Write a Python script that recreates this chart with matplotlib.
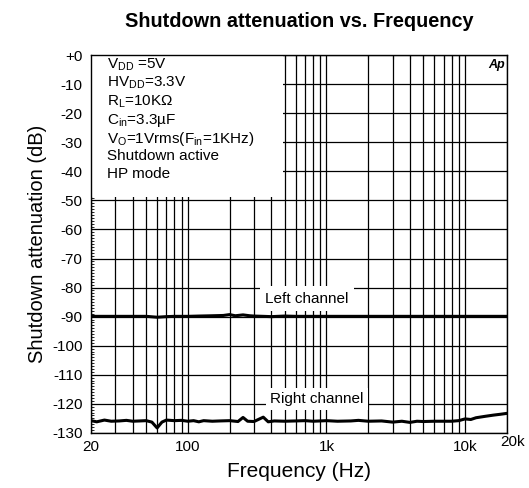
import numpy as np
import matplotlib
matplotlib.use("Agg")
import matplotlib.pyplot as plt
from matplotlib.ticker import FixedLocator, MultipleLocator, NullFormatter, LogLocator

plt.rcParams['font.family'] = ['Liberation Sans', 'DejaVu Sans']
plt.rcParams['mathtext.fontset'] = 'custom'
plt.rcParams['mathtext.rm'] = 'Liberation Sans'
plt.rcParams['mathtext.it'] = 'Liberation Sans:italic'

# measured attenuation, Hz vs dB
freq_left = [20, 30, 40, 50, 60, 70, 80, 100, 120, 150, 180, 200, 220, 250, 280, 300,
             350, 400, 500, 600, 800, 1000, 1500, 2000, 3000, 5000, 7000, 10000, 15000, 20000]
atten_left = [-89.9, -89.9, -89.9, -89.9, -90.2, -90.0, -89.9, -89.9, -89.8, -89.7, -89.6,
              -89.3, -89.7, -89.4, -89.7, -89.8, -89.9, -90.0, -89.8, -89.9, -89.9, -89.9,
              -89.9, -89.9, -89.9, -89.9, -89.9, -89.9, -89.9, -89.9]

freq_right = [20, 22, 25, 28, 32, 36, 40, 45, 50, 55, 60, 65, 70, 80, 90, 100, 110, 120,
              130, 150, 170, 200, 230, 250, 270, 300, 350, 380, 420, 500, 600, 700, 800,
              900, 1000, 1200, 1500, 1700, 2000, 2500, 3000, 3500, 4000, 4500, 5000, 6000,
              7000, 8000, 9000, 10000, 11000, 12000, 14000, 16000, 18000, 20000]
atten_right = [-125.8, -126.2, -125.6, -126.0, -125.9, -125.7, -126.0, -125.9, -125.8,
               -126.3, -128.3, -126.3, -125.6, -125.8, -125.7, -126.0, -125.8, -126.2,
               -125.8, -126.0, -125.9, -125.8, -126.1, -124.7, -126.0, -126.1, -124.6,
               -126.2, -125.9, -126.0, -125.9, -125.8, -126.0, -125.9, -125.8, -126.0,
               -125.9, -125.7, -126.0, -125.9, -126.3, -126.0, -126.4, -126.0, -126.1,
               -126.0, -126.0, -126.0, -125.8, -125.2, -125.4, -124.8, -124.3, -123.9,
               -123.6, -123.3]

xtick_vals = [20, 100, 1000, 10000]
xtick_text = ['20', '100', '1k', '10k']
ytick_vals = list(range(0, -140, -10))
ytick_text = ['+0'] + [str(v) for v in ytick_vals[1:]]

conditions = [r'V$_{\rm DD}$ =5V', r'HV$_{\rm DD}$=3.3V', r'R$_{\rm L}$=10KΩ',
              r'C$_{\rm in}$=3.3µF', r'V$_{\rm O}$=1Vrms(F$_{\rm in}$=1KHz)',
              'Shutdown active', 'HP mode']

fig = plt.figure(figsize=(5.29, 4.88), dpi=100)
ax = fig.add_axes([0.172, 0.113, 0.786, 0.774])

ax.plot(freq_left, atten_left, color='black', lw=2.2, zorder=3)
ax.plot(freq_right, atten_right, color='black', lw=2.2, zorder=3)

ax.set_xscale('log')
ax.set_xlim(20, 20000)
ax.set_ylim(-130, 0)

ax.xaxis.set_major_locator(FixedLocator(xtick_vals))
ax.set_xticklabels(xtick_text)
ax.xaxis.set_minor_locator(LogLocator(base=10, subs=np.arange(2, 10)))
ax.xaxis.set_minor_formatter(NullFormatter())
ax.set_yticks(ytick_vals)
ax.set_yticklabels(ytick_text)
ax.yaxis.set_minor_locator(MultipleLocator(1))

ax.tick_params(axis='both', which='both', direction='in', labelsize=11)
ax.tick_params(axis='x', which='major', length=0, pad=5)
ax.tick_params(axis='x', which='minor', top=True, bottom=False, length=3, width=0.8)
ax.tick_params(axis='y', which='major', length=0, pad=6)
ax.tick_params(axis='y', which='minor', length=2.5, width=0.6)

ax.set_axisbelow(True)
ax.grid(True, which='major', color='black', lw=0.9)
ax.grid(True, which='minor', axis='x', color='black', lw=0.9)

for s in ax.spines.values():
    s.set_linewidth(1.0)

# 20k label sits a bit higher at the right edge
ax.text(0.985, -0.005, '20k', transform=ax.transAxes, ha='left', va='top', fontsize=11)

# white panel behind the test conditions
ax.add_patch(plt.Rectangle((0.0, 0.624), 0.462, 0.376, transform=ax.transAxes,
                           facecolor='white', edgecolor='none', zorder=1))
for i, line in enumerate(conditions):
    ax.text(0.038, 0.997 - i * 0.049, line, transform=ax.transAxes, ha='left', va='top',
            fontsize=11, zorder=2)

ax.text(722, -83.9, 'Left channel', ha='center', va='center', fontsize=11, zorder=2,
        bbox=dict(facecolor='white', edgecolor='none', pad=4))
ax.text(853, -118.3, 'Right channel', ha='center', va='center', fontsize=11, zorder=2,
        bbox=dict(facecolor='white', edgecolor='none', pad=3))

ax.text(0.995, 0.99, 'Ap', transform=ax.transAxes, ha='right', va='top', fontsize=9,
        fontweight='bold', fontstyle='italic', zorder=4)

ax.set_title('Shutdown attenuation vs. Frequency', fontsize=14.3, fontweight='bold', pad=20)
ax.set_xlabel('Frequency (Hz)', fontsize=15, labelpad=6)
ax.set_ylabel('Shutdown attenuation (dB)', fontsize=14.5, labelpad=4)

fig.savefig('out.png', dpi=100)
